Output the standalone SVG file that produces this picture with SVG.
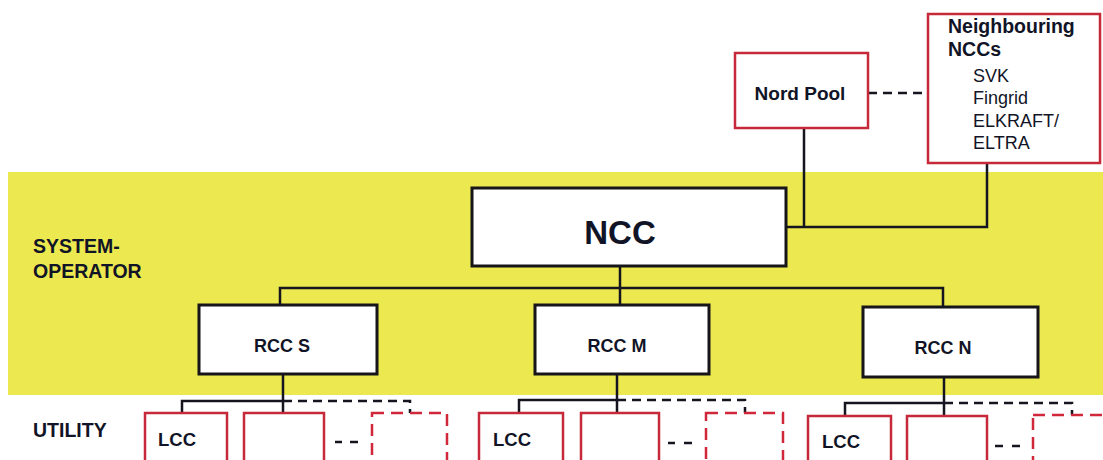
<svg xmlns="http://www.w3.org/2000/svg" width="1103" height="460" viewBox="0 0 1103 460">
<style>
.t{font-family:"Liberation Sans",Arial,sans-serif;font-weight:bold;fill:#111426}
.n{font-family:"Liberation Sans",Arial,sans-serif;fill:#111426}
.bk{fill:#fff;stroke:#15151a;stroke-width:3}
.rd{fill:#fff;stroke:#c62a3a;stroke-width:2.5}
.rdd{fill:#fff;stroke:#d0283a;stroke-width:2.5;stroke-dasharray:12,7}
.ln{fill:none;stroke:#15151f;stroke-width:2.5}
.dl{fill:none;stroke:#15151f;stroke-width:2.5;stroke-dasharray:9,6}
</style>
<rect x="0" y="0" width="1103" height="460" fill="#fff"/>
<rect id="band" x="8" y="172" width="1095" height="223" fill="#ece84f"/>
<text class="t" x="33" y="253" font-size="19.5">SYSTEM-</text>
<text class="t" x="33" y="278" font-size="19.5">OPERATOR</text>
<text class="t" x="33" y="437" font-size="19.5">UTILITY</text>
<g id="connectors">
<path class="ln" d="M804 128V227M786 227H987V163"/>
<path class="dl" d="M868 93H928"/>
<path class="ln" d="M620 266V305M280 305V288H943V307"/>
<path class="ln" d="M283 374V413M182 413V401H283M617 374V413M519 413V400H617M944 377V416M845 416V403H944"/>
<path class="dl" d="M283 401H410V413M617 400H745V413M944 403H1072V415"/>
</g>
<g id="nordpool"><rect class="rd" x="735" y="53" width="133" height="75"/><text class="t" x="800" y="100" font-size="19" text-anchor="middle">Nord Pool</text></g>
<g id="neighbouring"><rect class="rd" x="928" y="14" width="172" height="149"/>
<text class="t" x="948" y="33" font-size="19.5">Neighbouring</text>
<text class="t" x="948" y="56" font-size="19.5">NCCs</text>
<text class="n" x="973" y="82" font-size="18">SVK</text>
<text class="n" x="973" y="104" font-size="18">Fingrid</text>
<text class="n" x="973" y="127" font-size="18">ELKRAFT/</text>
<text class="n" x="973" y="149" font-size="18">ELTRA</text></g>
<g id="ncc"><rect class="bk" x="472" y="188" width="314" height="78"/><text class="t" x="620" y="244" font-size="33" text-anchor="middle">NCC</text></g>
<g id="rccs"><rect class="bk" x="199" y="305" width="178" height="69"/><text class="t" x="282" y="352" font-size="18" text-anchor="middle">RCC S</text></g>
<g id="rccm"><rect class="bk" x="535" y="305" width="174" height="69"/><text class="t" x="617" y="352" font-size="18" text-anchor="middle">RCC M</text></g>
<g id="rccn"><rect class="bk" x="863" y="307" width="175" height="70"/><text class="t" x="943" y="354" font-size="18" text-anchor="middle">RCC N</text></g>
<g id="lcc-s"><rect class="rd" x="145" y="413" width="82" height="60"/><text class="t" x="158" y="446" font-size="18.5">LCC</text></g>
<g id="u2-s"><rect class="rd" x="244" y="413" width="80" height="60"/></g>
<g id="u3-s"><rect class="rdd" x="372" y="413" width="75" height="60"/></g>
<g id="lcc-m"><rect class="rd" x="479" y="413" width="84" height="60"/><text class="t" x="493" y="446" font-size="18.5">LCC</text></g>
<g id="u2-m"><rect class="rd" x="581" y="413" width="78" height="60"/></g>
<g id="u3-m"><rect class="rdd" x="706" y="413" width="77" height="60"/></g>
<g id="lcc-n"><rect class="rd" x="808" y="416" width="83" height="60"/><text class="t" x="822" y="448" font-size="18.5">LCC</text></g>
<g id="u2-n"><rect class="rd" x="907" y="416" width="80" height="60"/></g>
<g id="u3-n"><rect class="rdd" x="1033" y="415" width="90" height="60"/></g>
<path class="ln" d="M335 442H342M350 442H358M668 443H675M684 443H692M995 446H1003M1012 446H1020"/>
</svg>
